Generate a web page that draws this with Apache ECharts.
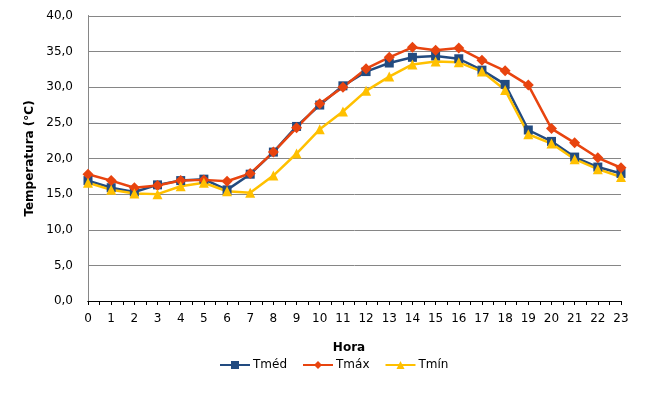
<!DOCTYPE html>
<html>
<head>
<meta charset="utf-8">
<script src="https://cdn.jsdelivr.net/npm/echarts@6/dist/echarts.min.js"></script>
<style>
  html, body { margin: 0; padding: 0; background: #fff; }
  #chart { width: 662px; height: 400px; }
</style>
</head>
<body>
<div id="chart"></div>
<script>
// hourly temperatures
const hours = [0, 1, 2, 3, 4, 5, 6, 7, 8, 9, 10, 11, 12, 13, 14, 15, 16, 17, 18, 19, 20, 21, 22, 23]
const tmed = [16.9, 15.9, 15.3, 16.3, 16.9, 17.1, 15.6, 17.8, 20.9, 24.5, 27.5, 30.2, 32.2, 33.4, 34.2, 34.4, 34.0, 32.4, 30.4, 24.0, 22.4, 20.2, 18.8, 17.9]
const tmax = [17.8, 16.9, 15.9, 16.2, 16.9, 17.0, 16.8, 17.9, 20.9, 24.3, 27.7, 30.0, 32.6, 34.2, 35.6, 35.2, 35.5, 33.8, 32.3, 30.3, 24.2, 22.2, 20.1, 18.7]
const tmin = [16.6, 15.6, 15.1, 15.0, 16.1, 16.6, 15.4, 15.2, 17.6, 20.7, 24.1, 26.6, 29.5, 31.5, 33.2, 33.6, 33.5, 32.2, 29.6, 23.4, 22.1, 19.9, 18.5, 17.4]

const font = 'DejaVu Sans'
const pairs = (vals) => hours.map((h, i) => [h, vals[i]])

const chart = echarts.init(document.getElementById('chart'))

const line = (name, vals, color, symbol, size) => ({
  name,
  type: 'line',
  data: pairs(vals),
  symbol,
  symbolSize: size,
  showSymbol: true,
  lineStyle: { color, width: 2.5 },
  itemStyle: { color },
  animation: false,
})

const option = {
  animation: false,
  textStyle: { fontFamily: font },
  grid: { left: 88, right: 41, top: 16, bottom: 99 },
  legend: {
    left: 214,
    top: 354,
    itemWidth: 30,
    itemHeight: 10,
    itemGap: 15,
    textStyle: { fontFamily: font, fontSize: 12, color: '#000', padding: [0, 0, 0, -2] },
    data: ['Tméd', 'Tmáx', 'Tmín'],
  },
  xAxis: [
    {
      type: 'value',
      min: 0,
      max: 23,
      interval: 1,
      name: 'Hora',
      nameLocation: 'middle',
      nameGap: 41,
      nameTextStyle: { fontFamily: font, fontSize: 12, fontWeight: 'bold', color: '#000', padding: [0, 11, 0, 0] },
      axisLine: { lineStyle: { color: '#000', width: 1 } },
      axisTick: { show: true, length: 4, lineStyle: { color: '#000' } },
      minorTick: { show: true, splitNumber: 2, length: 4, lineStyle: { color: '#000' } },
      axisLabel: { fontFamily: font, fontSize: 12, color: '#000', margin: 12 },
      splitLine: { show: false },
    },
    {
      type: 'value',
      position: 'top',
      min: 0,
      max: 23,
      axisLine: { show: true, lineStyle: { color: '#000', width: 1 } },
      axisTick: { show: false },
      axisLabel: { show: false },
      splitLine: { show: false },
    },
  ],
  yAxis: [
    {
      type: 'value',
      min: 0,
      max: 40,
      interval: 5,
      name: 'Temperatura (°C)',
      nameLocation: 'middle',
      nameRotate: 90,
      nameGap: 47,
      nameTextStyle: { fontFamily: font, fontSize: 12, fontWeight: 'bold', color: '#000' },
      axisLine: { show: true, lineStyle: { color: '#000', width: 1 } },
      axisTick: { show: false },
      axisLabel: {
        fontFamily: font,
        fontSize: 12,
        color: '#000',
        margin: 15,
        formatter: (v) => v.toFixed(1).replace('.', ','),
      },
      splitLine: { show: true, lineStyle: { color: '#868686', width: 1 } },
    },
    {
      type: 'value',
      position: 'right',
      min: 0,
      max: 40,
      axisLine: { show: true, lineStyle: { color: '#868686', width: 1 } },
      axisTick: { show: false },
      axisLabel: { show: false },
      splitLine: { show: false },
    },
  ],
  series: [
    line('Tméd', tmed, '#224B80', 'rect', 9),
    line('Tmáx', tmax, '#E8440F', 'path://M0,-1L1,0L0,1L-1,0Z', [11, 11]),
    line('Tmín', tmin, '#FFC000', 'triangle', 10),
  ],
}

chart.setOption(option)
</script>
</body>
</html>
